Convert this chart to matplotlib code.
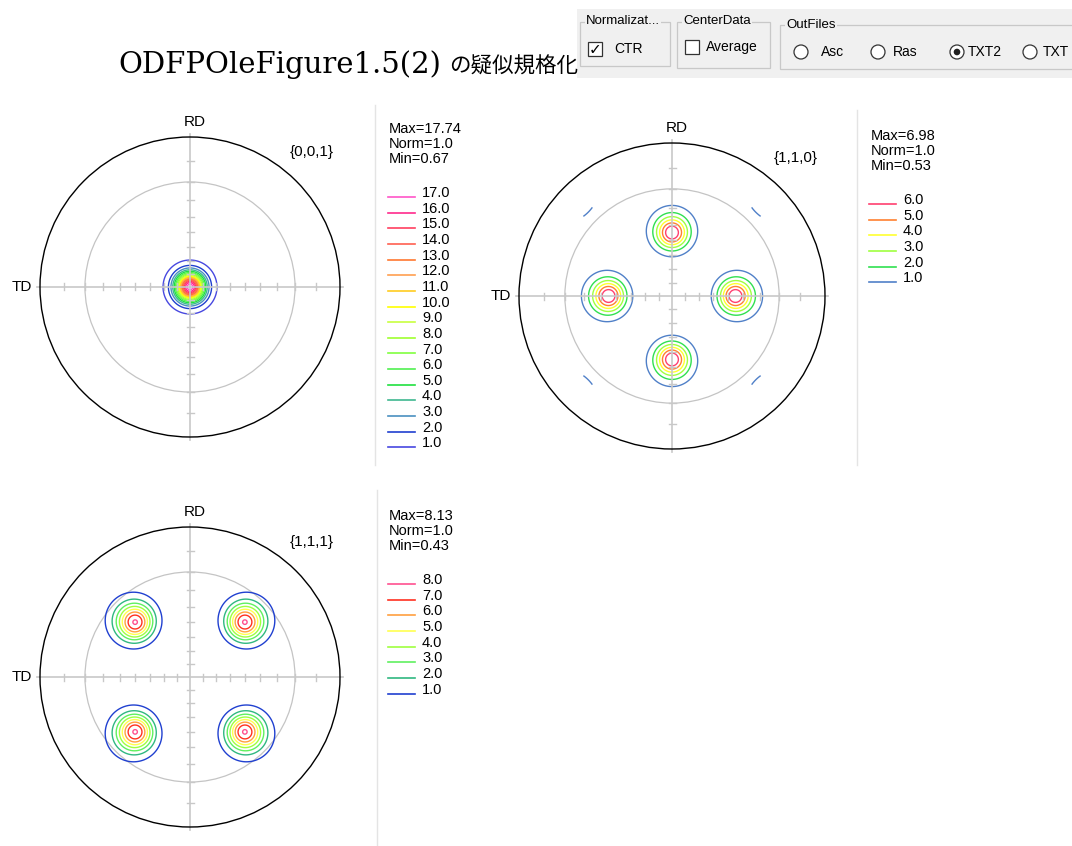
import numpy as np
import matplotlib.pyplot as plt
from matplotlib.patches import Circle, Rectangle

W, H = 1072, 846

title_latin = 'ODFPOleFigure1.5(2)'
title_jp = 'の疑似規格化'

plane_labels = ['{0,0,1}', '{1,1,0}', '{1,1,1}']
max_vals = [17.74, 6.98, 8.13]
norm_vals = [1.0, 1.0, 1.0]
min_vals = [0.67, 0.53, 0.43]

# contour levels (low -> high) and colours
levels_001 = [1.0, 2.0, 3.0, 4.0, 5.0, 6.0, 7.0, 8.0, 9.0,
              10.0, 11.0, 12.0, 13.0, 14.0, 15.0, 16.0, 17.0]
colors_001 = ['#4848e0', '#2040d0', '#4a90c0', '#40b890', '#20e040', '#50f050',
              '#80ff40', '#a0ff30', '#c8ff40', '#ffff00', '#ffcc20', '#ffa050',
              '#ff7830', '#ff6050', '#ff4060', '#ff2a8c', '#ff55c8']
levels_110 = [1.0, 2.0, 3.0, 4.0, 5.0, 6.0]
colors_110 = ['#5080c8', '#30e050', '#a0ff40', '#ffff30', '#ff8030', '#ff4070']
levels_111 = [1.0, 2.0, 3.0, 4.0, 5.0, 6.0, 7.0, 8.0]
colors_111 = ['#2040d0', '#30b880', '#60f060', '#a0ff40', '#ffff50',
              '#ffa040', '#ff3020', '#ff5090']

# poles: tilt from centre and azimuth (deg, ccw from the right), peak intensity
tilt_001 = [0.0]
azim_001 = [0.0]
peak_001 = [17.74]
tilt_110 = [45.0, 45.0, 45.0, 45.0, 90.0, 90.0, 90.0, 90.0]
azim_110 = [90.0, 180.0, 0.0, 270.0, 45.0, 135.0, 225.0, 315.0]
peak_110 = [6.98, 6.98, 6.98, 6.98, 4.3, 4.3, 4.3, 4.3]
tilt_111 = [54.7, 54.7, 54.7, 54.7]
azim_111 = [45.0, 135.0, 225.0, 315.0]
peak_111 = [8.13, 8.13, 8.13, 8.13]
spread_deg = [7.25, 7.1, 7.4]
max_tilt = 76.0


def pole_field(tilts, azims, peaks, bg, spread, n=481):
    g = np.linspace(-1.0, 1.0, n)
    X, Y = np.meshgrid(g, g)
    th = 2 * np.arctan(np.hypot(X, Y))
    ph = np.arctan2(Y, X)
    vx, vy, vz = np.sin(th) * np.cos(ph), np.sin(th) * np.sin(ph), np.cos(th)
    Z = np.full_like(X, bg)
    s = np.radians(spread)
    for t, a, p in zip(tilts, azims, peaks):
        t, a = np.radians(t), np.radians(a)
        d = vx * np.sin(t) * np.cos(a) + vy * np.sin(t) * np.sin(a) + vz * np.cos(t)
        w = np.arccos(np.clip(d, -1, 1))
        Z += (p - bg) * np.exp(-w ** 2 / (2 * s ** 2))
    Z[th > np.radians(max_tilt)] = np.nan
    return X, Y, Z


fig = plt.figure(figsize=(W / 100, H / 100), dpi=100)
ov = fig.add_axes([0, 0, 1, 1])
ov.set_xlim(0, W)
ov.set_ylim(H, 0)
ov.axis('off')

sans = 'Liberation Sans'

# title
ov.text(118, 73, title_latin, fontsize=21, family='DejaVu Serif', va='baseline', ha='left')
ov.text(449, 73, title_jp, fontsize=15.5, family=['Noto Sans CJK JP', 'DejaVu Sans'],
        va='baseline', ha='left')

# ---- the little control panel at top right
ov.add_patch(Rectangle((577, 9), W - 577, 69, facecolor='#f0f0f0', edgecolor='none'))
for x0, x1, y0, y1 in [(580, 670, 22, 66), (677, 770, 22, 68), (780, 1090, 25, 69)]:
    ov.add_patch(Rectangle((x0, y0), x1 - x0, y1 - y0, facecolor='none',
                           edgecolor='#c8c8c8', lw=0.9))
for x, y, s in [(586, 21, 'Normalizat...'), (683, 21, 'CenterData'), (786, 25, 'OutFiles')]:
    ov.text(x, y, s, fontsize=9.5, family=sans, va='center', ha='left',
            bbox=dict(facecolor='#f0f0f0', edgecolor='none', pad=1))
ov.add_patch(Rectangle((588, 42), 14, 14, facecolor='white', edgecolor='#333333', lw=0.9))
ov.text(595, 49.5, '✓', fontsize=11, family='DejaVu Sans', ha='center', va='center',
        fontweight='bold')
ov.text(614, 49, 'CTR', fontsize=10, family=sans, va='center')
ov.add_patch(Rectangle((685, 40), 14, 14, facecolor='white', edgecolor='#333333', lw=0.9))
ov.text(706, 47, 'Average', fontsize=10, family=sans, va='center')
for cx, lx, s, on in [(801, 821, 'Asc', False), (878, 893, 'Ras', False),
                      (957, 968, 'TXT2', True), (1030, 1043, 'TXT', False)]:
    ov.add_patch(Circle((cx, 52), 7, facecolor='white', edgecolor='#333333', lw=0.9))
    if on:
        ov.add_patch(Circle((cx, 52), 3.3, facecolor='#202020', edgecolor='none'))
    ov.text(lx, 52, s, fontsize=10, family=sans, va='center')

# panel dividers
ov.plot([375, 375], [105, 465], color='#e4e4e4', lw=1)
ov.plot([857, 857], [110, 465], color='#e4e4e4', lw=1)
ov.plot([377, 377], [490, 846], color='#e4e4e4', lw=1)

panels = [
    dict(c=(190, 287), R=150, tilts=tilt_001, azims=azim_001, peaks=peak_001,
         levels=levels_001, colors=colors_001, info=(389, 129), leg=(388, 197)),
    dict(c=(672, 296), R=153, tilts=tilt_110, azims=azim_110, peaks=peak_110,
         levels=levels_110, colors=colors_110, info=(871, 136), leg=(869, 204)),
    dict(c=(190, 677), R=150, tilts=tilt_111, azims=azim_111, peaks=peak_111,
         levels=levels_111, colors=colors_111, info=(389, 516), leg=(388, 584)),
]

lim = 1.2
tick_r = np.tan(np.radians(np.arange(5, 45, 5)))
for i, p in enumerate(panels):
    cx, cy = p['c']
    R = p['R']
    half = R * lim
    ax = fig.add_axes([(cx - half) / W, 1 - (cy + half) / H, 2 * half / W, 2 * half / H])
    ax.set_xlim(-lim, lim)
    ax.set_ylim(-lim, lim)
    ax.set_aspect('equal')
    ax.axis('off')

    X, Y, Z = pole_field(p['tilts'], p['azims'], p['peaks'], min_vals[i], spread_deg[i])
    ax.contour(X, Y, Z, levels=p['levels'], colors=p['colors'], linewidths=1.0, zorder=2)

    ax.add_patch(Circle((0, 0), 1.0, fill=False, edgecolor='black', lw=1.0, zorder=4))
    ax.add_patch(Circle((0, 0), np.tan(np.radians(35)), fill=False,
                        edgecolor='#c4c4c4', lw=0.9, zorder=1))
    gc = '#c8c8c8'
    ax.plot([-1.02, 1.02], [0, 0], color=gc, lw=1.2, zorder=3)
    ax.plot([0, 0], [-1.02, 1.02], color=gc, lw=1.2, zorder=3)
    tl = 3.5 / R
    for t in tick_r:
        for s in (-1, 1):
            ax.plot([s * t, s * t], [-tl, tl], color=gc, lw=1.0, zorder=3)
            ax.plot([-tl, tl], [s * t, s * t], color=gc, lw=1.0, zorder=3)

    ax.text(0.03, 1.0 + 15 / R, 'RD', fontsize=11, family=sans, ha='center', va='center')
    ax.text(-1.0 - 18 / R, 0, 'TD', fontsize=11, family=sans, ha='center', va='center')
    ax.text(0.81, 0.9, plane_labels[i], fontsize=11, family=sans, ha='center', va='center')

    # info text and legend
    ix, iy = p['info']
    for k, s in enumerate([f'Max={max_vals[i]:.2f}', f'Norm={norm_vals[i]:.1f}',
                           f'Min={min_vals[i]:.2f}']):
        ov.text(ix, iy + 15 * k, s, fontsize=10.5, family=sans, va='center', ha='left')
    lx, ly = p['leg']
    n = len(p['levels'])
    for k in range(n):
        j = n - 1 - k
        y = ly + 15.65 * k
        ov.plot([lx, lx + 27], [y, y], color=p['colors'][j], lw=1.2)
        ov.text(lx + 34, y - 4, f"{p['levels'][j]:.1f}", fontsize=10.5, family=sans,
                va='center', ha='left')

fig.savefig('out.png', dpi=100)
